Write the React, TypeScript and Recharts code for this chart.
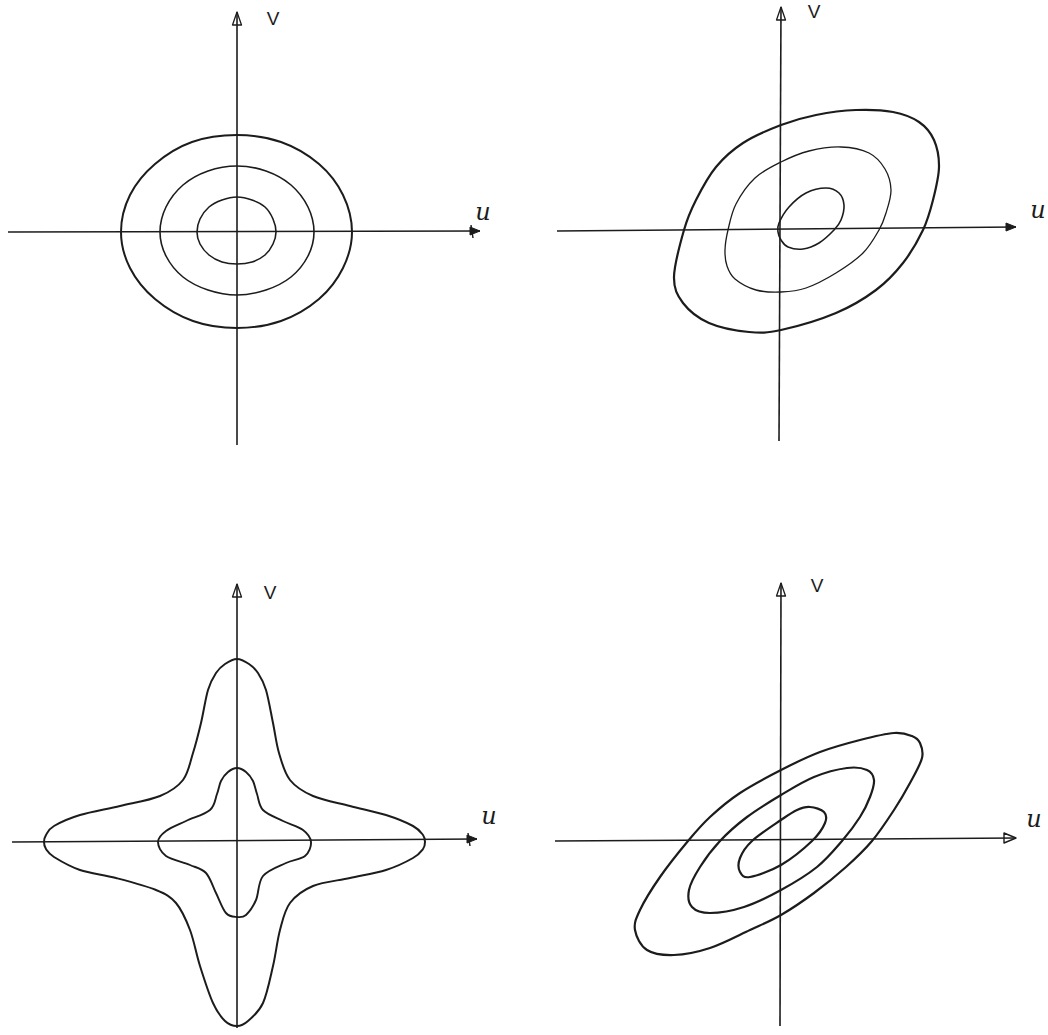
import { LineChart, Line, XAxis, YAxis, ReferenceLine, ReferenceDot } from 'recharts';

type Pt = { u: number; v: number };

const INK = '#1c1c1c';

// Contour rings, offsets from each panel's origin (v points up)
const roundOuter: Pt[] = [
  { u: 0, v: 97 }, { u: 44, v: 90 }, { u: 82, v: 68 }, { u: 106, v: 37 }, { u: 115, v: 0 },
  { u: 106, v: -36 }, { u: 82, v: -67 }, { u: 44, v: -89 }, { u: 0, v: -96 }, { u: -44, v: -89 },
  { u: -82, v: -67 }, { u: -107, v: -36 }, { u: -116, v: 0 }, { u: -107, v: 37 }, { u: -82, v: 68 },
  { u: -45, v: 90 },
];
const roundMid: Pt[] = [
  { u: 0, v: 66 }, { u: 29, v: 61 }, { u: 54, v: 47 }, { u: 71, v: 25 }, { u: 77, v: 0 },
  { u: 71, v: -24 }, { u: 54, v: -45 }, { u: 29, v: -58 }, { u: 0, v: -63 }, { u: -29, v: -58 },
  { u: -54, v: -45 }, { u: -71, v: -24 }, { u: -77, v: 0 }, { u: -71, v: 25 }, { u: -54, v: 47 },
  { u: -29, v: 61 },
];
const roundInner: Pt[] = [
  { u: 0, v: 35 }, { u: 15, v: 32 }, { u: 28, v: 25 }, { u: 36, v: 13 }, { u: 39, v: 0 },
  { u: 36, v: -12 }, { u: 28, v: -23 }, { u: 15, v: -30 }, { u: 0, v: -32 }, { u: -15, v: -30 },
  { u: -28, v: -23 }, { u: -37, v: -12 }, { u: -40, v: 0 }, { u: -37, v: 13 }, { u: -28, v: 25 },
  { u: -15, v: 32 },
];

const tiltOuter: Pt[] = [
  { u: -107, v: -47 }, { u: -97, v: 0 }, { u: -85, v: 30 }, { u: -65, v: 63 }, { u: -38, v: 87 },
  { u: 0, v: 105 }, { u: 35, v: 115 }, { u: 75, v: 120 }, { u: 112, v: 118 }, { u: 138, v: 108 },
  { u: 153, v: 90 }, { u: 158, v: 63 }, { u: 152, v: 30 }, { u: 142, v: 0 }, { u: 122, v: -33 },
  { u: 95, v: -60 }, { u: 55, v: -83 }, { u: 0, v: -100 }, { u: -32, v: -102 }, { u: -72, v: -93 },
  { u: -98, v: -73 },
];
const tiltMid: Pt[] = [
  { u: -56, v: -20 }, { u: -53, v: 0 }, { u: -45, v: 26 }, { u: -26, v: 52 }, { u: 0, v: 68 },
  { u: 28, v: 79 }, { u: 60, v: 83 }, { u: 88, v: 77 }, { u: 104, v: 61 }, { u: 110, v: 40 },
  { u: 105, v: 17 }, { u: 98, v: 0 }, { u: 82, v: -23 }, { u: 55, v: -43 }, { u: 25, v: -58 },
  { u: 0, v: -62 }, { u: -25, v: -60 }, { u: -46, v: -49 }, { u: -54, v: -36 },
];
const tiltInner: Pt[] = [
  { u: -2, v: 7 }, { u: 8, v: 23 }, { u: 25, v: 37 }, { u: 45, v: 42 }, { u: 58, v: 37 },
  { u: 63, v: 25 }, { u: 60, v: 10 }, { u: 53, v: 0 }, { u: 38, v: -13 }, { u: 22, v: -19 },
  { u: 7, v: -17 }, { u: 0, v: -10 }, { u: -3, v: -2 },
];

const starOuter: Pt[] = [
  { u: 0, v: 183 }, { u: 12, v: 178 }, { u: 21, v: 169 }, { u: 29, v: 152 }, { u: 36, v: 119 },
  { u: 42, v: 89 }, { u: 53, v: 62 }, { u: 76, v: 46 }, { u: 113, v: 36 }, { u: 149, v: 27 },
  { u: 176, v: 16 }, { u: 186, v: 7 }, { u: 188, v: 0 }, { u: 186, v: -7 }, { u: 176, v: -16 },
  { u: 149, v: -28 }, { u: 113, v: -36 }, { u: 76, v: -44 }, { u: 53, v: -61 }, { u: 43, v: -88 },
  { u: 36, v: -124 }, { u: 26, v: -161 }, { u: 11, v: -179 }, { u: 0, v: -184 }, { u: -12, v: -179 },
  { u: -24, v: -161 }, { u: -37, v: -124 }, { u: -47, v: -88 }, { u: -61, v: -61 }, { u: -81, v: -48 },
  { u: -121, v: -36 }, { u: -157, v: -28 }, { u: -183, v: -15 }, { u: -191, v: -7 }, { u: -193, v: 0 },
  { u: -191, v: 7 }, { u: -183, v: 16 }, { u: -157, v: 27 }, { u: -117, v: 36 }, { u: -77, v: 46 },
  { u: -54, v: 62 }, { u: -44, v: 89 }, { u: -36, v: 119 }, { u: -29, v: 152 }, { u: -21, v: 169 },
  { u: -12, v: 178 },
];
const starInner: Pt[] = [
  { u: 0, v: 74 }, { u: 9, v: 70 }, { u: 16, v: 61 }, { u: 20, v: 48 }, { u: 26, v: 32 },
  { u: 46, v: 21 }, { u: 66, v: 12 }, { u: 74, v: 0 }, { u: 68, v: -14 }, { u: 49, v: -21 },
  { u: 26, v: -34 }, { u: 19, v: -58 }, { u: 9, v: -73 }, { u: 0, v: -75 }, { u: -11, v: -71 },
  { u: -21, v: -51 }, { u: -31, v: -31 }, { u: -47, v: -23 }, { u: -71, v: -14 }, { u: -79, v: 0 },
  { u: -71, v: 11 }, { u: -51, v: 21 }, { u: -27, v: 32 }, { u: -20, v: 48 }, { u: -16, v: 61 },
  { u: -9, v: 70 },
];

const slimOuter: Pt[] = [
  { u: 139, v: 98 }, { u: 131, v: 105 }, { u: 113, v: 108 }, { u: 79, v: 101 }, { u: 39, v: 89 },
  { u: 0, v: 71 }, { u: -41, v: 48 }, { u: -71, v: 24 }, { u: -93, v: 0 }, { u: -121, v: -36 },
  { u: -141, v: -69 }, { u: -146, v: -89 }, { u: -134, v: -109 }, { u: -107, v: -114 }, { u: -71, v: -107 },
  { u: -31, v: -89 }, { u: 0, v: -74 }, { u: 33, v: -52 }, { u: 65, v: -26 }, { u: 91, v: 0 },
  { u: 113, v: 31 }, { u: 129, v: 58 }, { u: 141, v: 83 },
];
const slimMid: Pt[] = [
  { u: 86, v: 71 }, { u: 93, v: 61 }, { u: 89, v: 44 }, { u: 79, v: 24 }, { u: 61, v: 0 },
  { u: 36, v: -26 }, { u: 0, v: -49 }, { u: -37, v: -66 }, { u: -71, v: -72 }, { u: -89, v: -66 },
  { u: -92, v: -49 }, { u: -81, v: -26 }, { u: -61, v: 0 }, { u: -34, v: 24 }, { u: 0, v: 46 },
  { u: 33, v: 64 }, { u: 66, v: 73 },
];
const slimInner: Pt[] = [
  { u: 29, v: 34 }, { u: 43, v: 29 }, { u: 44, v: 18 }, { u: 31, v: 0 }, { u: 0, v: -24 },
  { u: -31, v: -36 }, { u: -41, v: -31 }, { u: -41, v: -17 }, { u: -29, v: 0 }, { u: 0, v: 21 },
  { u: 16, v: 31 },
];

// closed Catmull-Rom curve so each ring passes through its points and joins up smoothly
const closedSmooth = (ctx: any) => {
  let pts: number[][] = [];
  return {
    areaStart() {},
    areaEnd() {},
    lineStart() { pts = []; },
    point(x: number, y: number) { pts.push([+x, +y]); },
    lineEnd() {
      const n = pts.length;
      if (!n) return;
      ctx.moveTo(pts[0][0], pts[0][1]);
      for (let i = 0; i < n; i++) {
        const p0 = pts[(i - 1 + n) % n];
        const p1 = pts[i];
        const p2 = pts[(i + 1) % n];
        const p3 = pts[(i + 2) % n];
        ctx.bezierCurveTo(
          p1[0] + (p2[0] - p0[0]) / 6, p1[1] + (p2[1] - p0[1]) / 6,
          p2[0] - (p3[0] - p1[0]) / 6, p2[1] - (p3[1] - p1[1]) / 6,
          p2[0], p2[1],
        );
      }
      ctx.closePath();
    },
  };
};

type Head = 'barb' | 'filled' | 'open';

const UpHead = (p: any) => (
  <polygon
    points={`${p.cx},${p.cy} ${p.cx - 4.5},${p.cy + 13} ${p.cx + 4.5},${p.cy + 13}`}
    fill="none" stroke={INK} strokeWidth={1.3} strokeLinejoin="round"
  />
);

const rightHead = (kind: Head) => (p: any) => {
  const { cx, cy } = p;
  if (kind === 'open') {
    return (
      <polygon points={`${cx},${cy} ${cx - 12},${cy - 5} ${cx - 12},${cy + 5}`}
        fill="none" stroke={INK} strokeWidth={1.4} strokeLinejoin="round" />
    );
  }
  return (
    <g>
      <polygon points={`${cx},${cy} ${cx - 10},${cy - 4} ${cx - 10},${cy + 4}`} fill={INK} stroke={INK} strokeWidth={1} />
      {kind === 'barb' && <line x1={cx - 9} y1={cy - 6} x2={cx - 7} y2={cy + 7} stroke={INK} strokeWidth={1.4} />}
    </g>
  );
};

const glyph = (text: string, italic: boolean) => (p: any) => (
  <text
    x={p.cx} y={p.cy} textAnchor="middle" dominantBaseline="central"
    fontFamily={italic ? 'DejaVu Serif' : 'Liberation Sans'}
    fontStyle={italic ? 'italic' : 'normal'}
    fontSize={italic ? 24 : 19} fill={INK}
  >
    {text}
  </text>
);

interface Panel {
  left: number; top: number; width: number; height: number;
  ox: number; oy: number;
  rings: { data: Pt[]; w: number }[];
  hAxis: [Pt, Pt]; vAxis: [Pt, Pt];
  head: Head;
  uAt: Pt; vAt: Pt;
}

const panels: Panel[] = [
  {
    left: 0, top: 0, width: 524, height: 517, ox: 237, oy: 232,
    rings: [{ data: roundOuter, w: 2 }, { data: roundMid, w: 1.6 }, { data: roundInner, w: 1.6 }],
    hAxis: [{ u: -229, v: 0 }, { u: 243, v: 1 }], vAxis: [{ u: 0, v: -213 }, { u: 0, v: 220 }],
    head: 'barb', uAt: { u: 246, v: 20 }, vAt: { u: 36, v: 214 },
  },
  {
    left: 524, top: 0, width: 524, height: 517, ox: 781, oy: 230,
    rings: [{ data: tiltOuter, w: 2.2 }, { data: tiltMid, w: 1.3 }, { data: tiltInner, w: 1.6 }],
    hAxis: [{ u: -224, v: -1 }, { u: 235, v: 3 }], vAxis: [{ u: -2, v: -211 }, { u: 0, v: 223 }],
    head: 'filled', uAt: { u: 257, v: 20 }, vAt: { u: 33, v: 219 },
  },
  {
    left: 0, top: 517, width: 524, height: 518, ox: 237, oy: 842,
    rings: [{ data: starOuter, w: 2 }, { data: starInner, w: 1.9 }],
    hAxis: [{ u: -225, v: 0 }, { u: 240, v: 3 }], vAxis: [{ u: 0, v: -186 }, { u: 0, v: 258 }],
    head: 'barb', uAt: { u: 252, v: 26 }, vAt: { u: 33, v: 250 },
  },
  {
    left: 524, top: 517, width: 524, height: 518, ox: 781, oy: 841,
    rings: [{ data: slimOuter, w: 2.2 }, { data: slimMid, w: 2.2 }, { data: slimInner, w: 2.2 }],
    hAxis: [{ u: -226, v: 0 }, { u: 235, v: 3 }], vAxis: [{ u: -1, v: -185 }, { u: 0, v: 258 }],
    head: 'open', uAt: { u: 253, v: 22 }, vAt: { u: 36, v: 256 },
  },
];

function ContourPanel({ p }: { p: Panel }) {
  const xDomain = [p.left - p.ox, p.left + p.width - p.ox];
  const yDomain = [p.oy - (p.top + p.height), p.oy - p.top];
  return (
    <div style={{ position: 'absolute', left: p.left, top: p.top }}>
      <LineChart width={p.width} height={p.height} margin={{ top: 0, right: 0, bottom: 0, left: 0 }}>
        <XAxis type="number" dataKey="u" domain={xDomain} allowDataOverflow hide />
        <YAxis type="number" domain={yDomain} allowDataOverflow hide />
        <ReferenceLine
          segment={[{ x: p.hAxis[0].u, y: p.hAxis[0].v }, { x: p.hAxis[1].u, y: p.hAxis[1].v }]}
          stroke={INK} strokeWidth={1.5} ifOverflow="visible"
        />
        <ReferenceLine
          segment={[{ x: p.vAxis[0].u, y: p.vAxis[0].v }, { x: p.vAxis[1].u, y: p.vAxis[1].v }]}
          stroke={INK} strokeWidth={1.6} ifOverflow="visible"
        />
        {p.rings.map((r, i) => (
          <Line
            key={i}
            data={r.data}
            dataKey="v"
            type={closedSmooth as any}
            stroke={INK}
            strokeWidth={r.w}
            dot={false}
            activeDot={false}
            isAnimationActive={false}
          />
        ))}
        <ReferenceDot x={p.vAxis[1].u} y={p.vAxis[1].v} shape={UpHead} ifOverflow="visible" />
        <ReferenceDot x={p.hAxis[1].u} y={p.hAxis[1].v} shape={rightHead(p.head)} ifOverflow="visible" />
        <ReferenceDot x={p.uAt.u} y={p.uAt.v} shape={glyph('u', true)} ifOverflow="visible" />
        <ReferenceDot x={p.vAt.u} y={p.vAt.v} shape={glyph('V', false)} ifOverflow="visible" />
      </LineChart>
    </div>
  );
}

export default function App() {
  return (
    <div style={{ position: 'absolute', left: 0, top: 0, width: 1048, height: 1035, background: '#fff' }}>
      {panels.map((p, i) => (
        <ContourPanel key={i} p={p} />
      ))}
    </div>
  );
}
